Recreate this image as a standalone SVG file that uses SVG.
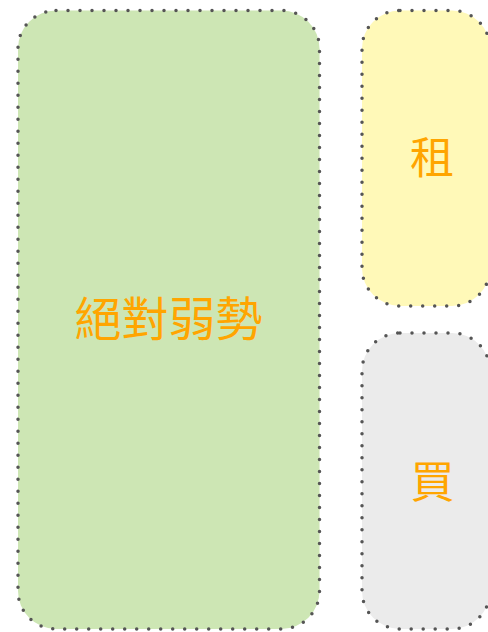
<svg xmlns="http://www.w3.org/2000/svg" width="488" height="632" viewBox="0 0 488 632">
<style>
.box{stroke:#555555;stroke-width:3.5;stroke-dasharray:0 12;stroke-linecap:round}
.lbl{font-family:"Noto Sans CJK TC","Noto Sans CJK SC",sans-serif;fill:#ffa500;text-anchor:middle;dominant-baseline:central}
</style>
<rect width="488" height="632" fill="#ffffff"/>
<g id="weak">
<rect class="box" x="18" y="10.5" width="301.5" height="618.5" rx="38" ry="38" fill="#cde6b4"/>
<text class="lbl" x="168.5" y="315" font-size="47">絕對弱勢</text>
</g>
<g id="rent">
<rect class="box" x="362" y="10.5" width="128" height="295.5" rx="38" ry="38" fill="#fff9b8"/>
<text class="lbl" x="432" y="155" font-size="44">租</text>
</g>
<g id="buy">
<rect class="box" x="362" y="333" width="128" height="296" rx="38" ry="38" fill="#ebebeb"/>
<text class="lbl" x="432.5" y="479" font-size="44">買</text>
</g>
<g id="connectors"></g>
</svg>
